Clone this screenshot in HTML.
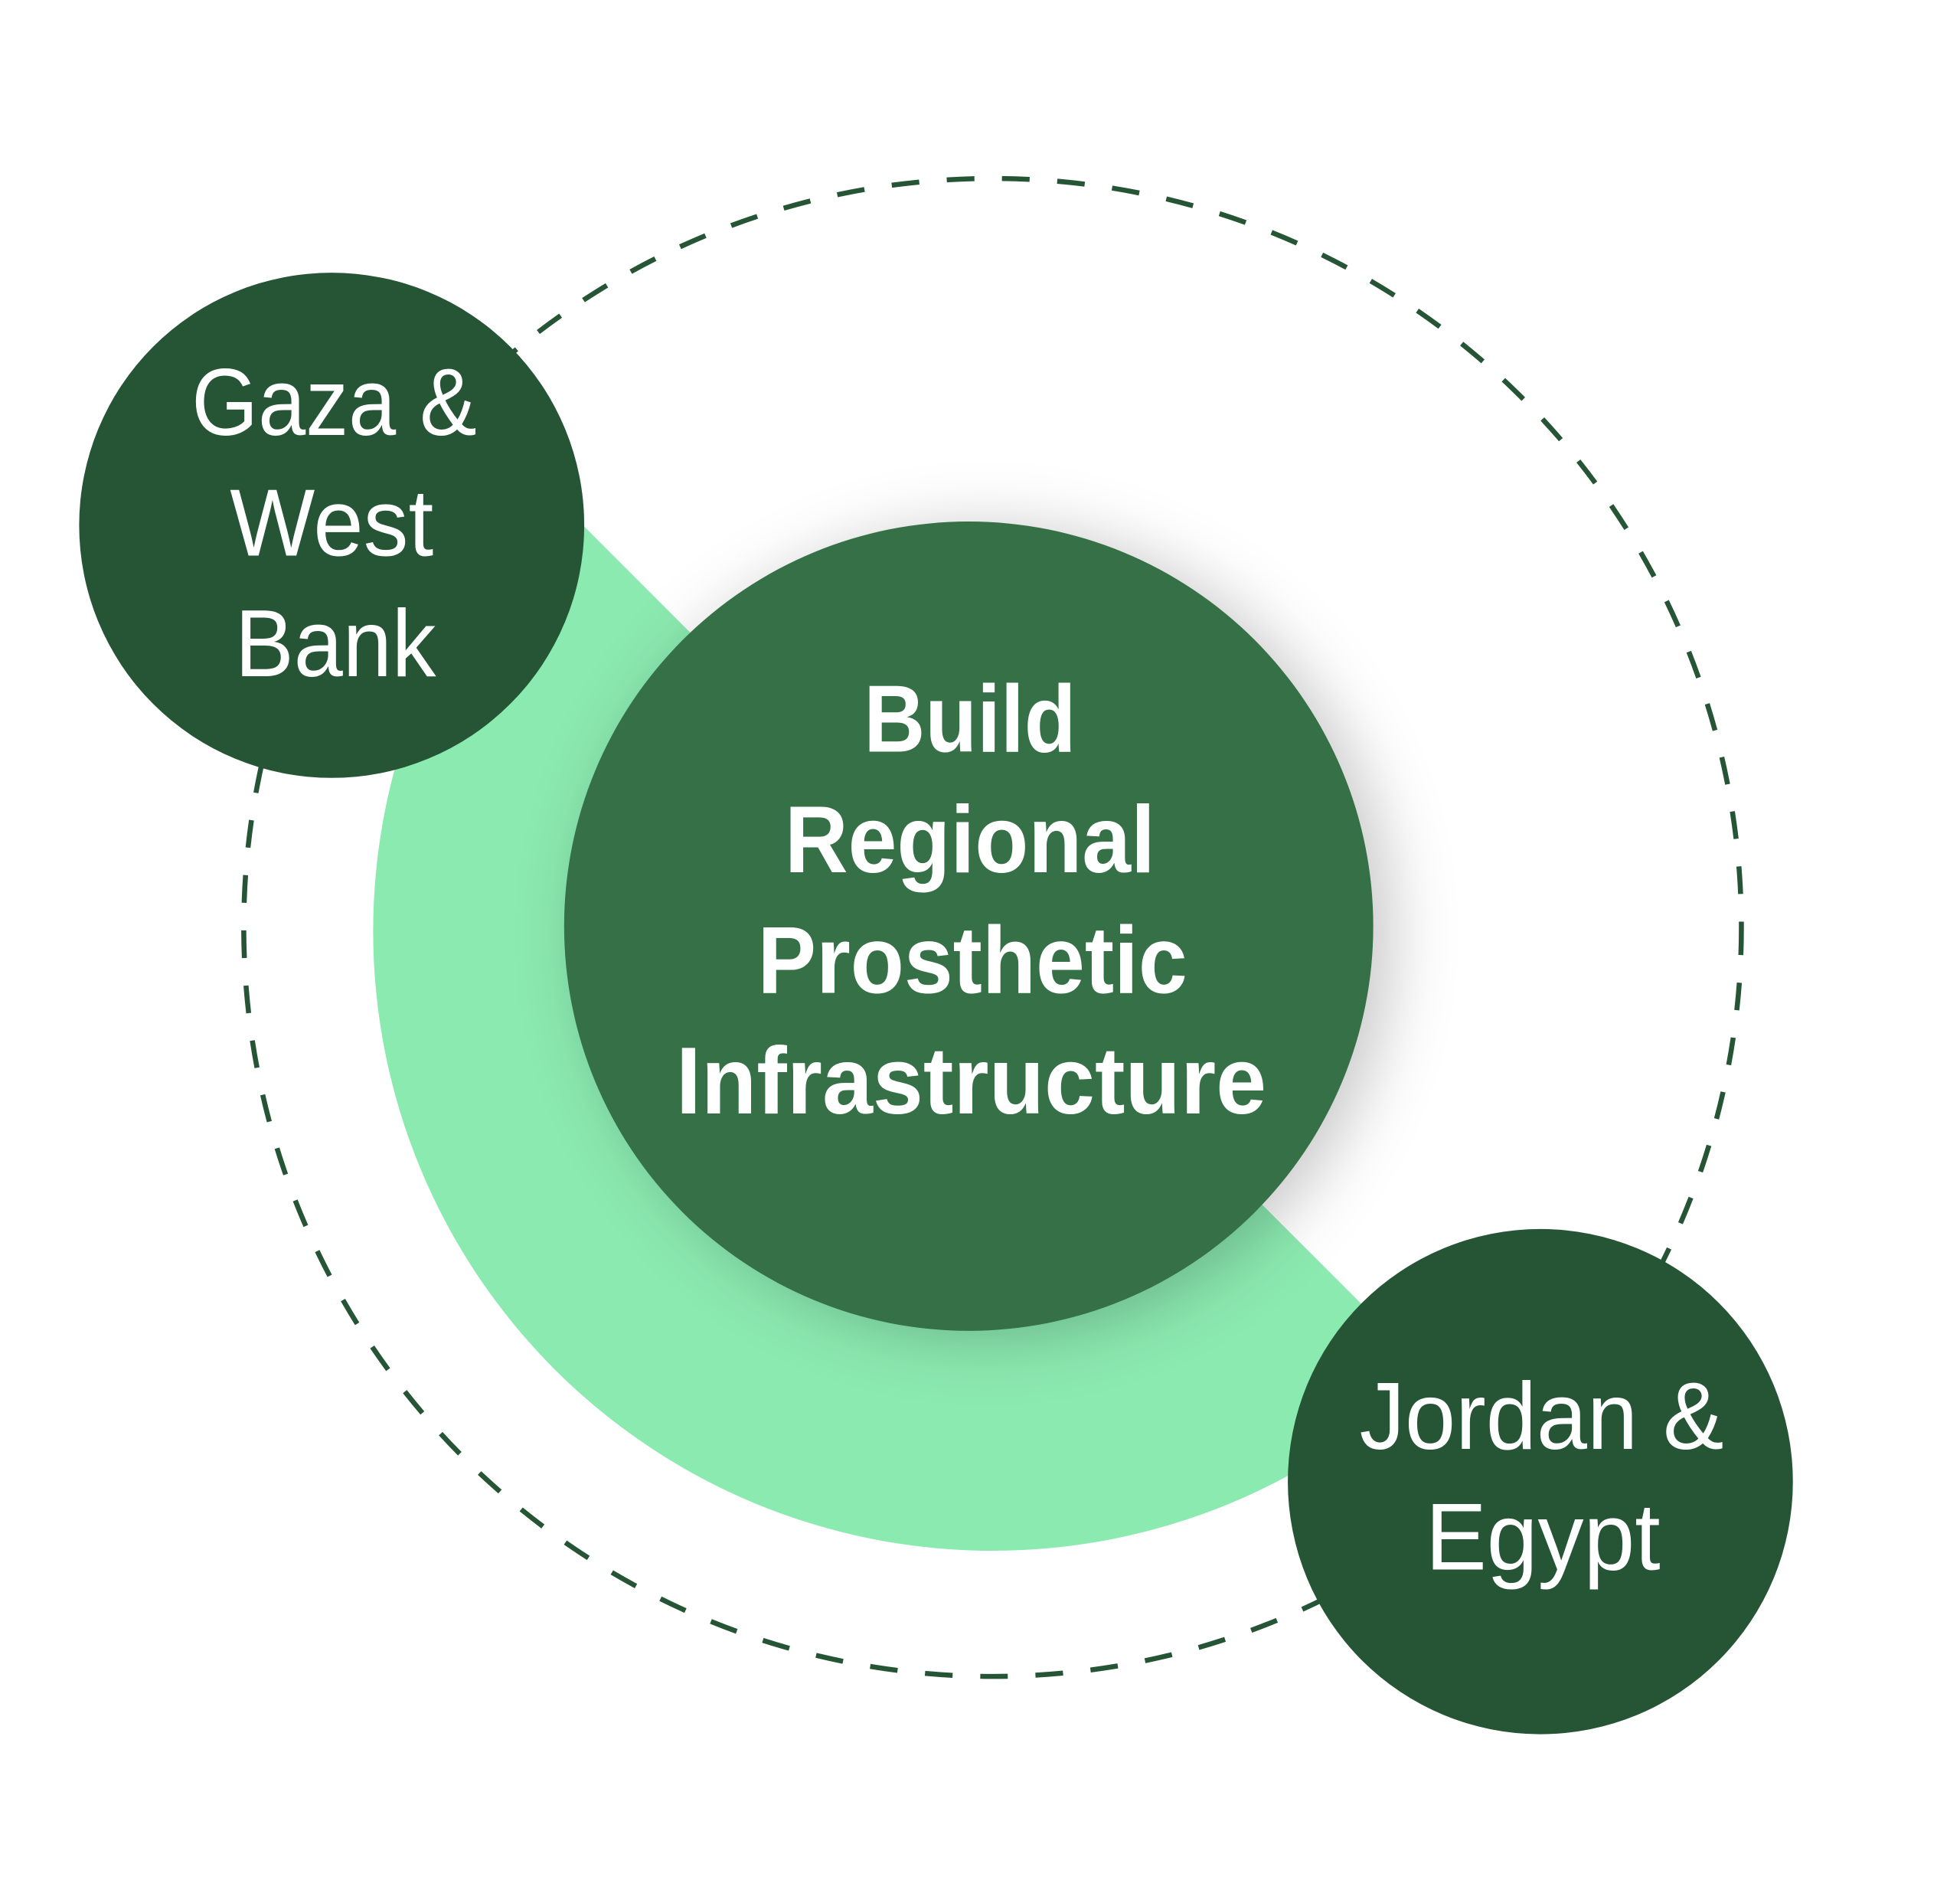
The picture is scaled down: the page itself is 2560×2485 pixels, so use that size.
<!DOCTYPE html>
<html><head><meta charset="utf-8"><style>html,body{margin:0;padding:0;background:#fff}svg{display:block}</style></head>
<body>
<svg width="2560" height="2485" viewBox="0 0 1560 1514.3" xmlns="http://www.w3.org/2000/svg">
<defs>
<filter id="sh" x="-30%" y="-30%" width="160%" height="160%">
<feDropShadow dx="14" dy="6" stdDeviation="26" flood-color="#000" flood-opacity="0.22"/>
</filter>
<clipPath id="hp"><polygon points="-200,-246 1800,1754 -200,1754"/></clipPath>
</defs>
<rect width="1560" height="1514.3" fill="#fff"/>
<circle cx="790" cy="738" r="596" fill="none" stroke="#255535" stroke-width="4" stroke-dasharray="22 22"/>
<circle cx="790" cy="741" r="493" fill="#8BEAB0" clip-path="url(#hp)"/>
<circle cx="771" cy="737" r="322" fill="#347046" filter="url(#sh)"/>
<circle cx="264" cy="418" r="201" fill="#255535"/>
<circle cx="1226" cy="1179" r="201" fill="#255535"/>
<g font-family="Liberation Sans, sans-serif" fill="#fff" text-anchor="middle" font-size="76">
<text x="266" y="346" textLength="227" lengthAdjust="spacingAndGlyphs">Gaza &amp;</text>
<text x="264" y="442" textLength="162" lengthAdjust="spacingAndGlyphs">West</text>
<text x="267" y="538" textLength="160" lengthAdjust="spacingAndGlyphs">Bank</text>
<text x="1227" y="1153" textLength="290" lengthAdjust="spacingAndGlyphs">Jordan &amp;</text>
<text x="1228" y="1249" textLength="187" lengthAdjust="spacingAndGlyphs">Egypt</text>
<g font-weight="bold">
<text x="772" y="598" textLength="169" lengthAdjust="spacingAndGlyphs">Build</text>
<text x="772" y="694" textLength="295" lengthAdjust="spacingAndGlyphs">Regional</text>
<text x="774" y="790" textLength="342" lengthAdjust="spacingAndGlyphs">Prosthetic</text>
<text x="773" y="886" textLength="470" lengthAdjust="spacingAndGlyphs">Infrastructure</text>
</g>
</g>
</svg>
</body></html>
